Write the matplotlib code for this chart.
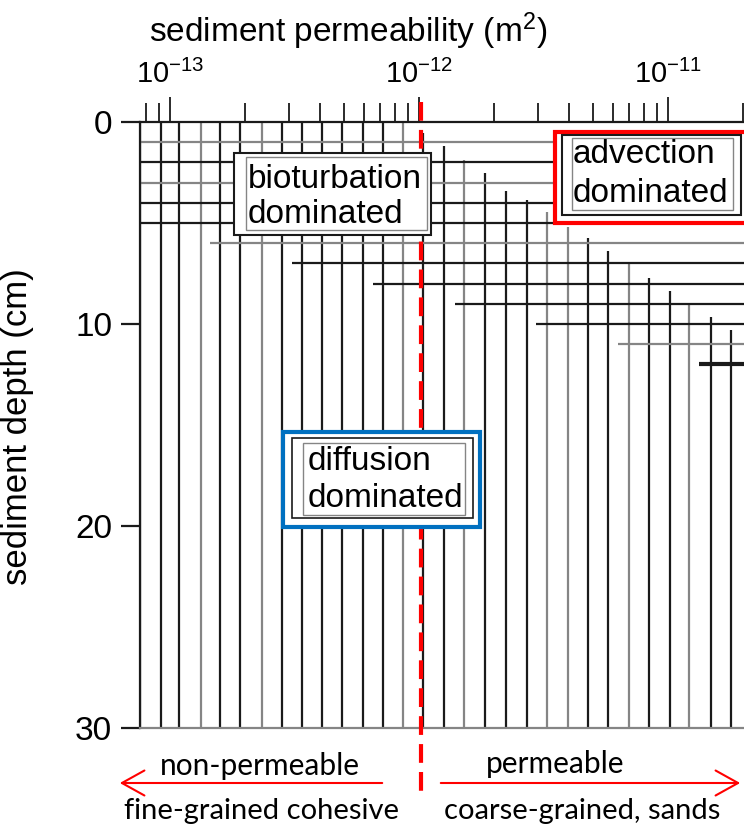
import matplotlib
matplotlib.use("Agg")
import matplotlib.pyplot as plt
from matplotlib.patches import Rectangle, FancyArrowPatch
from matplotlib.ticker import LogLocator, NullFormatter, FixedLocator

plt.rcParams['font.family'] = ['Liberation Sans', 'DejaVu Sans']
plt.rcParams['mathtext.fontset'] = 'custom'
plt.rcParams['mathtext.rm'] = 'Liberation Sans'
plt.rcParams['mathtext.it'] = 'Liberation Sans:italic'

# vertical grid lines: permeability (m^2) and depth (cm) where each line starts
perm_lines = [0.757e-13, 0.92e-13, 1.09e-13, 1.33e-13, 1.59e-13, 1.91e-13, 2.35e-13,
              2.82e-13, 3.40e-13, 4.09e-13, 4.92e-13, 5.98e-13, 7.19e-13, 8.66e-13,
              1.04e-12, 1.26e-12, 1.52e-12, 1.84e-12, 2.23e-12, 2.71e-12, 3.26e-12,
              3.96e-12, 4.76e-12, 5.74e-12, 6.97e-12, 8.38e-12, 1.02e-11, 1.22e-11,
              1.49e-11, 1.79e-11]
line_top = [0, 0, 0, 0, 0, 0, 0, 0, 0, 0, 0, 0, 0, 0,
            0.55, 1.2, 1.9, 2.5, 3.4, 3.85, 4.45, 5.2, 5.75, 6.4, 7.0, 7.7,
            8.35, 9.05, 9.65, 10.3]

# horizontal grid lines: depth (cm) and permeability where each line starts
depth_levels = [1, 2, 3, 4, 5, 6, 7, 8, 9, 10, 11, 12]
depth_start = [0.757e-13, 0.757e-13, 0.757e-13, 0.757e-13, 0.757e-13, 1.45e-13,
               3.10e-13, 6.56e-13, 1.39e-12, 2.94e-12, 6.29e-12, 1.33e-11]

threshold = 1.02e-12          # permeable / non-permeable boundary
x_range = (0.757e-13, 2.02e-11)
y_range = (30, 0)
y_ticks = [0, 10, 20, 30]
x_ticks = [1e-13, 1e-12, 1e-11]
x_ticklabels = ['$10^{-13}$', '$10^{-12}$', '$10^{-11}$']

# a few lines are printed lighter in the scanned original
gray_v = {3, 6, 13, 16, 20, 21, 24, 27}
gray_h = {1, 3, 6, 11}

W, H = 744, 826
def fx(x):
    return x / W
def fy(y):
    return 1 - y / H

fig = plt.figure(figsize=(W / 100, H / 100), dpi=100)
ax = fig.add_axes([fx(140), fy(728), (744 - 140) / W, (728 - 122) / H])
ax.set_xscale('log')
ax.set_xlim(*x_range)
ax.set_ylim(*y_range)

dark = '#1a1a1a'
light = '#858585'
vcol = [light if i in gray_v else dark for i in range(len(perm_lines))]
ax.vlines(perm_lines, line_top, 30, colors=vcol, lw=1.6)
hcol = [light if d in gray_h else dark for d in depth_levels]
hlw = [3.0 if d == 12 else 1.6 for d in depth_levels]
ax.hlines(depth_levels, depth_start, x_range[1], colors=hcol, lw=hlw)

# axes styling
ax.xaxis.tick_top()
ax.xaxis.set_major_locator(FixedLocator(x_ticks))
ax.set_xticklabels(x_ticklabels)
ax.xaxis.set_minor_locator(LogLocator(base=10, subs=range(2, 10)))
ax.xaxis.set_minor_formatter(NullFormatter())
ax.tick_params(axis='x', which='major', length=18, width=1.3, pad=6, labelsize=21, color=dark)
ax.tick_params(axis='x', which='minor', length=14, width=1.3, color=dark)
ax.set_yticks(y_ticks)
ax.tick_params(axis='y', length=14, width=1.6, pad=6, labelsize=24, color=dark)
ax.spines['right'].set_visible(False)
ax.spines['top'].set_color(dark)
ax.spines['top'].set_linewidth(1.6)
ax.spines['left'].set_color(dark)
ax.spines['left'].set_linewidth(1.6)
ax.spines['bottom'].set_color(light)
ax.spines['bottom'].set_linewidth(1.6)

fig.text(fx(348), fy(42), 'sediment permeability (m$^{2}$)', ha='center', va='baseline', fontsize=24)
fig.text(fx(18), fy(427), 'sediment depth (cm)', ha='center', va='center', rotation=90, fontsize=25)

def box(x0, y0, x1, y1, ec, lw, fill=False, z=3):
    r = Rectangle((fx(x0), fy(y1)), (x1 - x0) / W, (y1 - y0) / H, transform=fig.transFigure,
                  facecolor='white' if fill else 'none', edgecolor=ec, lw=lw, zorder=z)
    fig.add_artist(r)

bsize = 24
# bioturbation
box(234, 153, 431, 235, dark, 1.5, fill=True)
box(246, 157, 427, 230, light, 1.0)
fig.text(fx(248), fy(188), 'bioturbation', va='baseline', fontsize=bsize, zorder=4)
fig.text(fx(248), fy(223), 'dominated', va='baseline', fontsize=bsize, zorder=4)

# advection
box(555, 132, 770, 223, '#ff0000', 3.0, fill=True)
box(562, 135, 741, 215, dark, 1.5)
box(572, 138, 733, 210, light, 1.0)
fig.text(fx(573), fy(163), 'advection', va='baseline', fontsize=bsize, zorder=4)
fig.text(fx(573), fy(202), 'dominated', va='baseline', fontsize=bsize, zorder=4)

# diffusion
box(283, 432, 480, 527, '#0070c0', 3.0, fill=True)
box(292, 438, 473, 518, dark, 1.2)
box(303, 443, 465, 515, light, 1.0)
fig.text(fx(308), fy(470), 'diffusion', va='baseline', fontsize=bsize, zorder=4)
fig.text(fx(308), fy(507), 'dominated', va='baseline', fontsize=bsize, zorder=4)

# permeability threshold
ax.plot([threshold, threshold], [-1.0, 33.2], color='#ff0000', lw=3, ls=(0, (4.5, 2.2)),
        clip_on=False, zorder=10)

# bottom annotation
red = '#ff0000'
for xs, xe in [(385, 117), (438, 743)]:
    arr = FancyArrowPatch((fx(xs), fy(783)), (fx(xe), fy(783)), transform=fig.transFigure,
                          arrowstyle='->,head_length=0.9,head_width=0.5', mutation_scale=18,
                          color=red, lw=1.5)
    fig.add_artist(arr)

bfont = ['Lato', 'DejaVu Sans']
fig.text(fx(260), fy(775), 'non-permeable', ha='center', va='baseline', fontsize=21.5, family=bfont)
fig.text(fx(555), fy(773), 'permeable', ha='center', va='baseline', fontsize=21.5, family=bfont)
fig.text(fx(261), fy(819), 'fine-grained cohesive', ha='center', va='baseline', fontsize=21, family=bfont)
fig.text(fx(582), fy(819), 'coarse-grained, sands', ha='center', va='baseline', fontsize=21, family=bfont)

fig.savefig('out.png', dpi=100)
